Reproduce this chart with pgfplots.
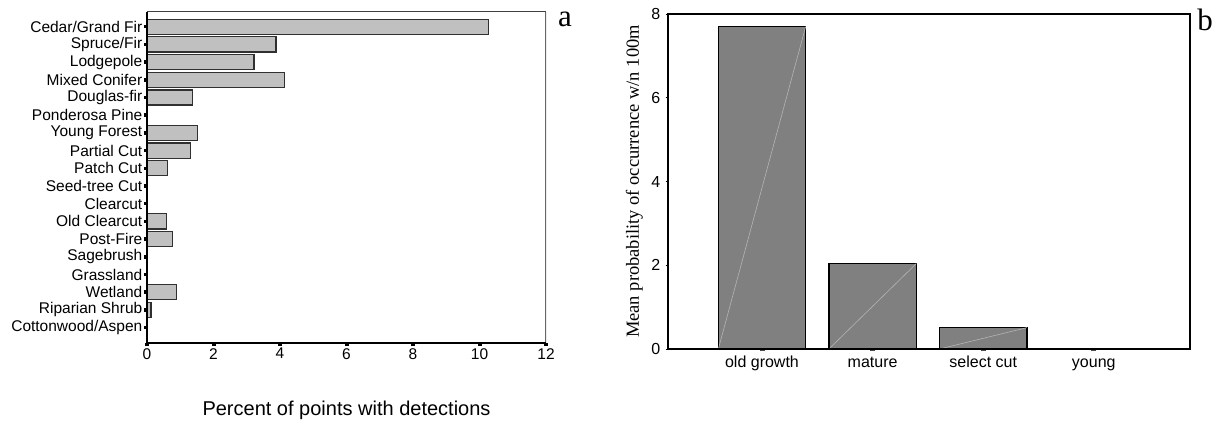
\documentclass[border=0pt]{standalone}
\usepackage{fontspec}
\setmainfont{Liberation Sans}
\newfontfamily\timesfont{Liberation Serif}
\usepackage{pgfplots}
\pgfplotsset{compat=1.18}

\definecolor{barlight}{HTML}{C0C0C0}
\definecolor{bardark}{HTML}{808080}
\definecolor{edgegray}{HTML}{303030}
\definecolor{diaggray}{HTML}{B4B4B4}

\begin{document}
\begin{tikzpicture}[x=1pt,y=1pt]
\path[use as bounding box] (0,0) rectangle (1218,423);

% (a) percent of points with detections, by cover type
\begin{axis}[
    at={(147pt,80pt)}, anchor=south west,
    scale only axis, width=399pt, height=331pt,
    xmin=0, xmax=12, ymin=0.13, ymax=18.83,
    axis lines*=left,
    axis line style={black, line width=1.6pt},
    axis on top,
    xtick={0,2,...,12},
    ytick={1,...,18},
    yticklabels={Cottonwood/Aspen, Riparian Shrub, Wetland, Grassland, Sagebrush,
        Post-Fire, Old Clearcut, Clearcut, Seed-tree Cut, Patch Cut, Partial Cut,
        Young Forest, Ponderosa Pine, Douglas-fir, Mixed Conifer, Lodgepole,
        Spruce/Fir, Cedar/Grand Fir},
    tick align=outside,
    xtick style={black, line width=4pt},
    ytick style={black, line width=3.5pt},
    major tick length=3pt,
    tick label style={font=\fontsize{15.5}{17}\selectfont},
    yticklabel style={inner sep=1.5pt},
    xticklabel style={inner sep=2pt},
    /pgf/number format/assume math mode=true,
    xlabel={Percent of points with detections},
    xlabel style={font=\fontsize{20}{22}\selectfont,
        at={(axis description cs:0.5,-0.202)}, anchor=center},
]
\addplot[xbar, bar width=0.85, fill=barlight, draw=edgegray, line width=1.2pt] coordinates {
    (0,1) (0.12,2) (0.88,3) (0,4) (0,5) (0.77,6) (0.58,7) (0,8) (0,9)
    (0.61,10) (1.31,11) (1.53,12) (0,13) (1.36,14) (4.13,15) (3.22,16)
    (3.88,17) (10.26,18)
};
\draw[black!75, line width=1pt] (rel axis cs:0,1) -- (rel axis cs:1,1);
\draw[black!60, line width=1.5pt] (rel axis cs:1,1) -- (rel axis cs:1,0);
\end{axis}
\node[font=\timesfont\fontsize{31}{33}\selectfont, anchor=base] at (565,396) {a};

% (b) mean probability of occurrence by stand age
\begin{axis}[
    at={(668pt,74pt)}, anchor=south west,
    scale only axis, width=522pt, height=335pt,
    xmin=0.15, xmax=4.87, ymin=0, ymax=8,
    axis line style={black, line width=1.6pt},
    axis on top,
    xtick={1,2,3,4},
    xticklabels={old growth, mature, select cut, young},
    ytick={0,2,...,8},
    xtick pos=bottom, ytick pos=left,
    tick align=outside,
    xtick style={black!70, line width=5pt},
    ytick style={black, line width=0.8pt},
    major tick length=2.5pt,
    tick label style={font=\fontsize{16}{18}\selectfont},
    xticklabel style={inner sep=7pt, text height=1.6ex, text depth=0.45ex},
    yticklabel style={inner sep=5pt},
    /pgf/number format/assume math mode=true,
    ylabel={Mean probability of occurrence w/n 100m},
    ylabel style={font=\timesfont\fontsize{18.5}{20}\selectfont},
]
\addplot[ybar, bar width=0.79, fill=bardark, draw=black, line width=1.5pt] coordinates {
    (1,7.70) (2,2.04) (3,0.51) (4,0)
};
\addplot[no marks, diaggray, line width=0.6pt] coordinates {(0.605,0) (1.395,7.70)};
\addplot[no marks, diaggray, line width=0.6pt] coordinates {(1.605,0) (2.395,2.04)};
\addplot[no marks, diaggray, line width=0.6pt] coordinates {(2.605,0) (3.395,0.51)};
\end{axis}
\node[font=\timesfont\fontsize{31}{33}\selectfont, anchor=base] at (1205,392) {b};
\end{tikzpicture}
\end{document}
